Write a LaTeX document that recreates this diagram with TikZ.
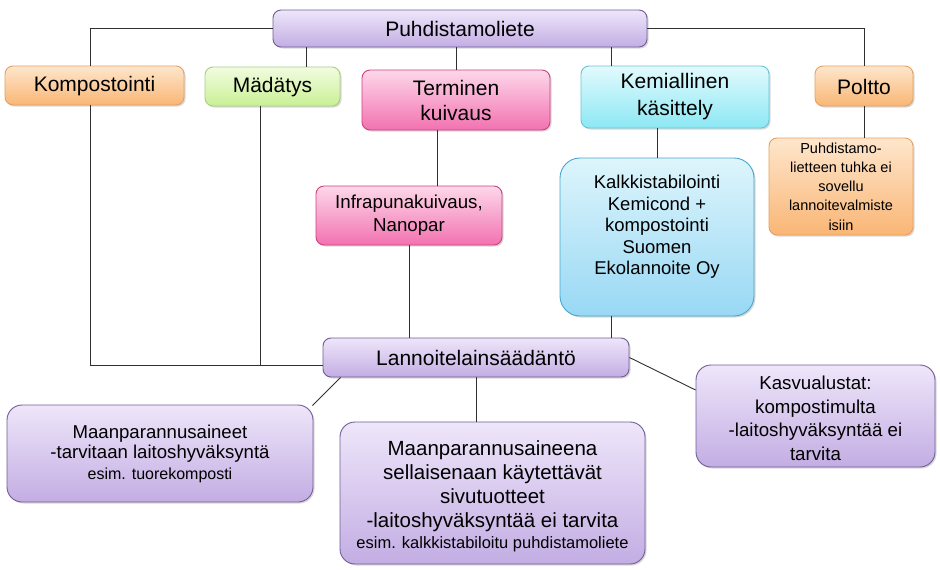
\documentclass[tikz,border=0pt]{standalone}
\usepackage{fontspec}
\setmainfont{Liberation Sans}
\usetikzlibrary{shadows}
\definecolor{purT}{HTML}{EEE6FA}\definecolor{purB}{HTML}{C3ADE3}\definecolor{purD}{HTML}{6E5E96}
\definecolor{orT}{HTML}{FEE6CC}\definecolor{orB}{HTML}{F9B675}\definecolor{orD}{HTML}{E8A060}
\definecolor{grT}{HTML}{F2FCE0}\definecolor{grB}{HTML}{C9F094}\definecolor{grD}{HTML}{A8CF80}
\definecolor{piT}{HTML}{FDD8EA}\definecolor{piB}{HTML}{F272B0}\definecolor{piD}{HTML}{D04080}
\definecolor{cyT}{HTML}{E2FAFD}\definecolor{cyB}{HTML}{8CE8F4}\definecolor{cyD}{HTML}{66C6D6}
\definecolor{blT}{HTML}{DDF5FC}\definecolor{blB}{HTML}{98D8F4}\definecolor{blD}{HTML}{45A8CC}
\definecolor{lineC}{HTML}{303030}
\tikzset{
  box/.style={draw, line width=0.9pt, rounded corners=8pt, align=center, inner sep=2pt,
    drop shadow={opacity=0.3, shadow xshift=1.5pt, shadow yshift=-1.5pt}},
  purbox/.style={box, draw=purD, top color=purT, bottom color=purB},
  orbox/.style={box, draw=orD, top color=orT, bottom color=orB},
  grbox/.style={box, draw=grD, top color=grT, bottom color=grB},
  pibox/.style={box, draw=piD, top color=piT, bottom color=piB},
  cybox/.style={box, draw=cyD, top color=cyT, bottom color=cyB},
  blbox/.style={box, draw=blD, top color=blT, bottom color=blB},
  conn/.style={draw=lineC, line width=0.9pt},
  big/.style={font=\fontsize{21}{25}\selectfont},
  mid/.style={font=\fontsize{18.7}{23}\selectfont},
}
\begin{document}
\begin{tikzpicture}[x=1pt,y=-1pt]
\useasboundingbox (0,0) rectangle (940,570);
\fill[white] (0,0) rectangle (940,570);
% nodes
\node[purbox, big, minimum width=374, minimum height=37] (top) at (460,28.5) {Puhdistamoliete};
\node[orbox, big, minimum width=179, minimum height=39] (komp) at (94.5,85.5) {\rule{0pt}{17pt}Kompostointi};
\node[grbox, big, minimum width=135, minimum height=39] (mad) at (272.5,86.5) {\rule{0pt}{17pt}Mädätys};
\node[pibox, big, minimum width=188, minimum height=60] (term) at (456,100) {Terminen\\kuivaus};
\node[cybox, big, minimum width=188, minimum height=62, font=\fontsize{21}{27}\selectfont] (kem) at (675,97) {Kemiallinen\\käsittely};
\node[orbox, big, minimum width=98, minimum height=40] (polt) at (864,86) {\rule{0pt}{17pt}Poltto};
\node[pibox, mid, minimum width=186, minimum height=59] (infra) at (409,215.5) {Infrapunakuivaus,\\Nanopar};
\node[blbox, rounded corners=20pt, minimum width=194, minimum height=158, font=\fontsize{18.5}{21.5}\selectfont] (kalk) at (657,237) {Kalkkistabilointi\\Kemicond +\\kompostointi\\Suomen\\Ekolannoite Oy\\[2pt]};
\node[orbox, minimum width=144, minimum height=97, font=\fontsize{14.5}{19.3}\selectfont] (tuhka) at (841,186.5) {Puhdistamo-\\lietteen tuhka ei\\sovellu\\lannoitevalmiste\\isiin};
\node[purbox, big, minimum width=306, minimum height=39] (lann) at (476,357.5) {Lannoitelainsäädäntö};
\node[purbox, rounded corners=15pt, minimum width=306, minimum height=97, font=\fontsize{18.6}{20.5}\selectfont] (maa) at (160,453.5) {Maanparannusaineet\\-tarvitaan laitoshyväksyntä\\{\fontsize{16}{18}\selectfont esim. tuorekomposti}};
\node[purbox, rounded corners=15pt, minimum width=305, minimum height=142, font=\fontsize{20.5}{24}\selectfont] (midb) at (492.5,493) {\rule{0pt}{22pt}Maanparannusaineena\\sellaisenaan käytettävät\\sivutuotteet\\-laitoshyväksyntää ei tarvita\\[-3pt]{\fontsize{16.5}{18}\selectfont esim. kalkkistabiloitu puhdistamoliete}};
\node[purbox, rounded corners=15pt, minimum width=239, minimum height=102, font=\fontsize{18.7}{23.5}\selectfont] (kasv) at (815.5,416) {\rule{0pt}{18pt}Kasvualustat:\\kompostimulta\\-laitoshyväksyntää ei\\tarvita};
% helper x positions
\coordinate (xa) at (90,0);
\coordinate (xm) at (306,0);
\coordinate (xk) at (611,0);
\coordinate (xd) at (260,0);
\coordinate (xi) at (437,0);
\coordinate (jn) at ([yshift=-7.5pt]lann.west);
% connectors
\draw[conn] (top.west) -| (komp.north -| xa);
\draw[conn] (top.south -| xm) -- (mad.north -| xm);
\draw[conn] (top.south -| term.north) -- (term.north);
\draw[conn] (top.south -| xk) -- (kem.north -| xk);
\draw[conn] (top.east) -| (polt.north);
\draw[conn] (komp.south -| xa) |- (jn);
\draw[conn] (mad.south -| xd) -- (jn -| xd);
\draw[conn] (term.south -| xi) -- (infra.north -| xi);
\draw[conn] (infra.south) -- (lann.north -| infra.south);
\draw[conn] (kem.south -| kalk.north) -- (kalk.north);
\draw[conn] (kalk.south -| xk) -- (lann.north -| xk);
\draw[conn] (polt.south) -- (tuhka.north -| polt.south);
\draw[conn] ([xshift=18pt]lann.south west) -- ([xshift=-1pt,yshift=-1pt]maa.north east);
\draw[conn] (lann.south) -- (midb.north -| lann.south);
\draw[conn] (lann.east) -- ([yshift=26pt]kasv.west);
\end{tikzpicture}
\end{document}
